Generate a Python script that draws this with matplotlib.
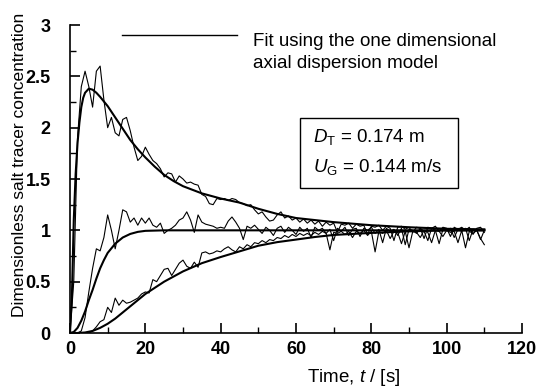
import numpy as np
import matplotlib
matplotlib.use("Agg")
import matplotlib.pyplot as plt
from matplotlib.lines import Line2D
from matplotlib.patches import Rectangle
from matplotlib.ticker import MultipleLocator, FuncFormatter

plt.rcParams["font.family"] = ["Liberation Sans", "DejaVu Sans"]
plt.rcParams["mathtext.fontset"] = "custom"
plt.rcParams["mathtext.rm"] = "Liberation Sans"
plt.rcParams["mathtext.it"] = "Liberation Sans:italic"

# --------------------- measured tracer responses (1 s sampling) ---------------------
time_s = np.arange(0, 111)

conc_top = [
    0, 0.5, 1.9, 2.4, 2.55, 2.4, 2.2, 2.55, 2.6, 2.27,
    2.0, 2.1, 1.95, 1.92, 2.08, 2.1, 1.97, 1.81, 1.68, 1.72,
    1.81, 1.74, 1.68, 1.65, 1.6, 1.52, 1.56, 1.55, 1.47, 1.53,
    1.5, 1.46, 1.47, 1.45, 1.44, 1.35, 1.33, 1.26, 1.25, 1.31,
    1.3, 1.31, 1.29, 1.31, 1.3, 1.27, 1.26, 1.24, 1.25, 1.2,
    1.16, 1.18, 1.13, 1.09, 1.1, 1.15, 1.18, 1.12, 1.14, 1.1,
    1.12, 1.08, 1.11, 1.07, 1.1, 1.06, 1.09, 1.04, 1.08, 1.05,
    1.07, 0.98, 1.06, 1.05, 1.07, 1.02, 1.06, 1.04, 1.05, 0.96,
    1.04, 1.03, 1.05, 1.0, 1.04, 1.02, 0.9, 1.03, 1.04, 1.01,
    1.03, 0.98, 1.03, 1.02, 0.92, 1.03, 1.02, 1.04, 0.99, 1.03,
    1.02, 0.94, 1.03, 1.01, 1.03, 1.0, 1.03, 0.96, 1.02, 1.03,
    0.98,
]

conc_mid = [
    0, 0, 0, 0.02, 0.15, 0.4, 0.63, 0.82, 0.8, 0.93,
    1.15, 1.0, 0.82, 1.0, 1.2, 1.18, 1.08, 1.12, 1.05, 1.12,
    1.07, 1.12, 1.05, 1.03, 1.07, 0.97, 1.0, 1.02, 1.05, 1.1,
    1.12, 1.18, 1.1, 0.98, 1.15, 1.08, 1.06, 1.05, 1.04, 1.02,
    1.03, 1.02, 1.09, 1.13, 1.08, 1.02, 0.91, 1.04, 1.02, 1.05,
    1.01, 0.97, 1.03, 1.0, 0.95, 1.02, 1.04, 0.98, 1.03, 1.0,
    0.96, 1.03, 0.99, 1.02, 0.93, 1.03, 1.0, 1.02, 0.97, 1.01,
    0.9, 1.02, 0.99, 1.03, 0.95, 1.01, 1.02, 0.94, 1.02, 1.0,
    1.03, 0.97, 1.01, 0.88, 1.02, 0.99, 1.01, 0.95, 1.02, 0.86,
    1.01, 1.0, 0.97, 1.02, 0.99, 0.9, 1.02, 1.0, 0.87, 1.01,
    1.0, 1.02, 0.93, 1.01, 0.99, 1.02, 0.9, 1.01, 1.0, 0.91,
    1.0,
]

conc_bot = [
    0, 0, 0, 0, 0, 0, 0.02, 0.06, 0.11, 0.13,
    0.25, 0.2, 0.34, 0.27, 0.32, 0.29, 0.3, 0.32, 0.34, 0.38,
    0.4, 0.39, 0.52, 0.5, 0.56, 0.62, 0.63, 0.56, 0.62, 0.68,
    0.71, 0.65, 0.63, 0.69, 0.64, 0.78, 0.79, 0.77, 0.78, 0.8,
    0.79, 0.82, 0.84, 0.81, 0.79, 0.84, 0.82, 0.86, 0.84, 0.88,
    0.87, 0.9, 0.88, 0.91, 0.9, 0.93, 0.92, 0.95, 0.93, 0.96,
    0.94, 0.97, 0.95, 0.97, 0.95, 0.98, 0.96, 0.99, 0.97, 0.81,
    0.98, 0.97, 0.99, 0.96, 0.99, 0.93, 0.99, 0.97, 1.0, 0.95,
    0.99, 0.79, 0.99, 0.97, 1.0, 0.92, 0.99, 0.98, 0.87, 0.99,
    0.83, 0.99, 0.98, 0.93, 1.0, 0.98, 0.88, 1.0, 0.99, 0.94,
    1.0, 0.98, 0.99, 0.88, 1.0, 0.83, 0.99, 0.97, 1.0, 0.92,
    0.86,
]

# --------------------- axial dispersion model fits ---------------------
fit_top_t = [0, 0.5, 1, 1.5, 2, 2.5, 3, 3.5, 4, 5, 6, 7, 8, 10, 12, 14, 16, 18, 20,
             22.5, 25, 27.5, 30, 35, 40, 45, 50, 55, 60, 65, 70, 75, 80, 90, 100, 110]
fit_top_c = [0, 0.35, 1.1, 1.55, 1.85, 2.05, 2.2, 2.29, 2.34, 2.38, 2.37, 2.34, 2.3,
             2.21, 2.1, 1.99, 1.88, 1.79, 1.71, 1.62, 1.54, 1.48, 1.43, 1.36, 1.31,
             1.27, 1.21, 1.16, 1.12, 1.1, 1.08, 1.065, 1.05, 1.03, 1.015, 1.01]

fit_mid_t = [0, 1, 2, 3, 4, 5, 6, 7, 8, 9, 10, 12, 14, 16, 18, 20, 25, 30, 40, 60, 80, 110]
fit_mid_c = [0, 0.01, 0.05, 0.12, 0.21, 0.32, 0.42, 0.53, 0.63, 0.71, 0.78, 0.87,
             0.93, 0.965, 0.985, 0.995, 1.0, 1.0, 1.0, 1.0, 1.0, 1.0]

fit_bot_t = [0, 2, 4, 6, 8, 10, 12, 14, 16, 18, 20, 25, 30, 35, 40, 45, 50, 55, 60,
             65, 70, 80, 90, 100, 110]
fit_bot_c = [0, 0, 0.005, 0.02, 0.05, 0.09, 0.14, 0.2, 0.26, 0.32, 0.38, 0.5, 0.6,
             0.68, 0.74, 0.795, 0.85, 0.885, 0.91, 0.935, 0.955, 0.975, 0.99, 1.0, 1.0]

W, H = 538, 387


def px(x, y):
    return x / W, 1 - y / H


fig = plt.figure(figsize=(W / 100, H / 100), dpi=100)
ax = fig.add_axes([70 / W, 1 - 333 / H, 452 / W, 308 / H])

for c in (conc_top, conc_mid, conc_bot):
    ax.plot(time_s, c, color="black", lw=0.8)
for t, c in ((fit_top_t, fit_top_c), (fit_mid_t, fit_mid_c), (fit_bot_t, fit_bot_c)):
    ax.plot(t, c, color="black", lw=1.5)

ax.set_xlim(0, 120)
ax.set_ylim(0, 3)
ax.xaxis.set_major_locator(MultipleLocator(20))
ax.xaxis.set_minor_locator(MultipleLocator(10))
ax.yaxis.set_major_locator(MultipleLocator(0.5))
ax.yaxis.set_minor_locator(MultipleLocator(0.25))
ax.yaxis.set_major_formatter(FuncFormatter(lambda v, pos: f"{v:g}"))
ax.spines["top"].set_visible(False)
ax.spines["right"].set_visible(False)
for s in ("left", "bottom"):
    ax.spines[s].set_linewidth(1.2)
ax.tick_params(which="major", direction="in", length=7, width=1.2,
               labelsize=13)
ax.tick_params(which="minor", direction="in", length=4, width=1)
ax.tick_params(axis="y", which="major", pad=14)
ax.tick_params(axis="x", which="major", pad=6)
for lab in ax.get_xticklabels() + ax.get_yticklabels():
    lab.set_fontweight("bold")

fig.text(*px(354, 377), "Time, $t$ / [s]", ha="center", va="center", fontsize=13.5)
fig.text(*px(20, 165), "Dimensionless salt tracer concentration", rotation=90,
         ha="center", va="center", fontsize=12.5)

# legend sample line and text
fig.add_artist(Line2D([122 / W, 237 / W], [1 - 35 / H, 1 - 35 / H], color="black", lw=1.0))
fig.text(*px(253, 41), "Fit using the one dimensional", ha="left", va="center", fontsize=13.5)
fig.text(*px(253, 63), "axial dispersion model", ha="left", va="center", fontsize=13.5)

# condition box
fig.add_artist(Rectangle(px(300, 188), 158 / W, 70 / H, fill=False, lw=1.0,
                         edgecolor="black", transform=fig.transFigure))
fig.text(*px(313, 137), r"$D_{\mathrm{T}}$ = 0.174 m", ha="left", va="center", fontsize=13.5)
fig.text(*px(313, 167), r"$U_{\mathrm{G}}$ = 0.144 m/s", ha="left", va="center", fontsize=13.5)

fig.savefig("out.png", dpi=100)
